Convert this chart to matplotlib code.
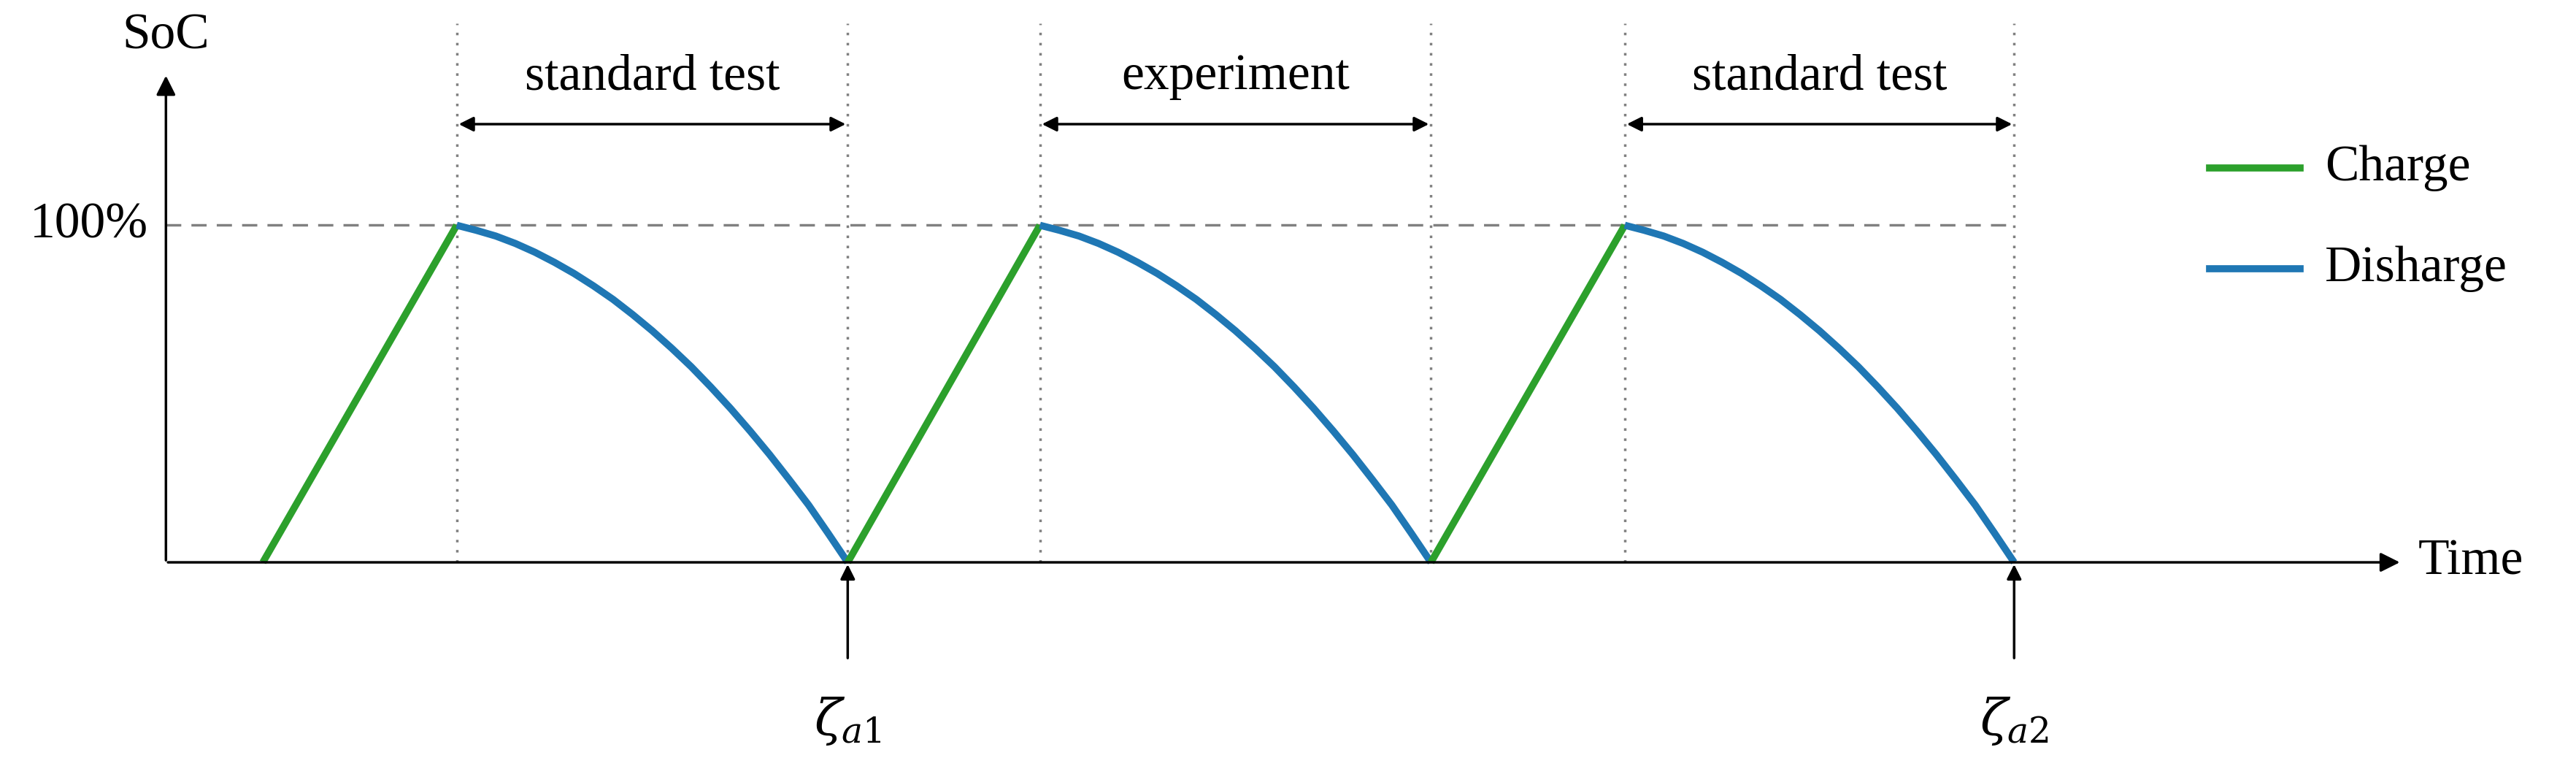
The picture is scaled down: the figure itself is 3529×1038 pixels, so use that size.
import numpy as np
from matplotlib import pyplot as plt

# Key time positions (horizontal layout units) and shape of each phase
charge_starts = [160, 516, 871]
peaks = [278, 633, 989]
discharge_ends = [516, 871, 1226]
# SoC shape of one discharge
dis_t = [0, .05, .1, .15, .2, .25, .3, .35, .4, .45, .5,
         .55, .6, .65, .7, .75, .8, .85, .9, .95, 1.0]
dis_soc = [1.0, .985, .968, .946, .92, .89, .857, .82, .78, .735, .687,
           .635, .58, .52, .457, .39, .32, .246, .17, .086, 0.0]
spans = [(278, 516, 'standard test'), (633, 871, 'experiment'), (989, 1226, 'standard test')]
marks = [(516, r'$\zeta_{a1}$'), (1226, r'$\zeta_{a2}$')]

green = '#2ca02c'
blue = '#1f77b4'
fs = 50
plt.rcParams['font.family'] = ['Liberation Serif', 'DejaVu Serif']
plt.rcParams['mathtext.fontset'] = 'dejavuserif'

fig = plt.figure(figsize=(35.29, 10.38), dpi=100)
ax = fig.add_axes([0, 0, 1, 1])
ax.set_xlim(0, 1568)
ax.set_ylim(-(461 - 342) / 205, 342 / 205)
ax.axis('off')

for x0, xp, xe in zip(charge_starts, peaks, discharge_ends):
    ax.plot([x0, xp], [0, 1], color=green, lw=7, solid_capstyle='butt', zorder=3)
    tx = xp + np.array(dis_t) * (xe - xp)
    ax.plot(tx, dis_soc, color=blue, lw=7, solid_capstyle='butt',
            solid_joinstyle='round', zorder=3)

for x in peaks + discharge_ends:
    ax.plot([x, x], [0, 1.6], color='gray', lw=2.5, ls=(0, (1, 3)))
ax.plot([101, 1226], [1, 1], color='gray', lw=2.5, ls=(0, (6, 4)))

# axes arrows
ax.annotate('', xy=(1462, 0), xytext=(101, 0),
            arrowprops=dict(arrowstyle='-|>', lw=2.5, color='black', mutation_scale=40))
ax.annotate('', xy=(101, 1.45), xytext=(101, 0),
            arrowprops=dict(arrowstyle='-|>', lw=2.5, color='black', mutation_scale=40))
ax.text(1472, 0, 'Time', fontsize=fs, va='center', ha='left')
ax.text(101, 1.56, 'SoC', fontsize=fs, va='center', ha='center')
ax.text(90, 1, '100%', fontsize=fs, va='center', ha='right')

for a, b, lab in spans:
    ax.annotate('', xy=(a, 1.3), xytext=(b, 1.3),
                arrowprops=dict(arrowstyle='<|-|>', lw=2.5, color='black', mutation_scale=30))
    ax.text((a + b) / 2, 1.44, lab, fontsize=fs, va='center', ha='center')

for x, lab in marks:
    ax.annotate('', xy=(x, 0), xytext=(x, -0.29),
                arrowprops=dict(arrowstyle='-|>', lw=2.5, color='black', mutation_scale=30))
    ax.text(x, -0.47, lab, fontsize=fs, va='center', ha='center')

ax.plot([1345, 1400], [1.17, 1.17], color=green, lw=7)
ax.text(1415, 1.17, 'Charge', fontsize=fs, va='center', ha='left')
ax.plot([1345, 1400], [0.87, 0.87], color=blue, lw=7)
ax.text(1415, 0.87, 'Disharge', fontsize=fs, va='center', ha='left')

fig.savefig('out.png', dpi=100)
